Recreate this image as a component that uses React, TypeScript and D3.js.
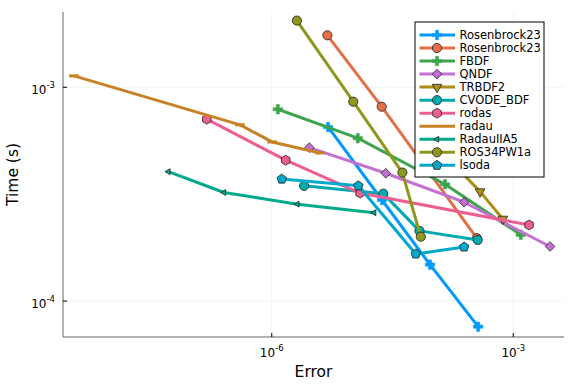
import React from "react";
import * as d3 from "d3";

// ---- data (Error, Time) ----
const seriesNames = ["Rosenbrock23", "Rosenbrock23", "FBDF", "QNDF", "TRBDF2", "CVODE_BDF", "rodas", "radau", "RadauIIA5", "ROS34PW1a", "lsoda"];
const seriesColors = ["#009AFA", "#E36F47", "#3EA44E", "#C371D2", "#AC8E18", "#00AAAE", "#ED5E93", "#C68225", "#00A98D", "#8E971E", "#00A8CB"];
const seriesMarkers = ["cross", "circle", "cross", "diamond", "dtriangle", "circle", "hexagon", "hline", "ltriangle", "circle", "pentagon"];

const rosenbrockErr = [5.0e-6, 2.34e-5, 9.25e-5, 3.66e-4];
const rosenbrockTime = [6.52e-4, 2.97e-4, 1.48e-4, 7.59e-5];
const rosenbrock2Err = [4.91e-6, 2.32e-5, 3.52e-4];
const rosenbrock2Time = [1.75e-3, 8.11e-4, 1.97e-4];
const fbdfErr = [1.19e-6, 1.17e-5, 1.42e-4, 1.24e-3];
const fbdfTime = [7.89e-4, 5.78e-4, 3.52e-4, 2.04e-4];
const qndfErr = [2.93e-6, 2.61e-5, 2.45e-4, 2.86e-3];
const qndfTime = [5.22e-4, 3.96e-4, 2.90e-4, 1.80e-4];
const trbdf2Err = [1.23e-4, 3.87e-4, 7.42e-4];
const trbdf2Time = [5.09e-4, 3.25e-4, 2.42e-4];
const cvodeErr = [2.52e-6, 2.43e-5, 6.83e-5, 3.62e-4];
const cvodeTime = [3.46e-4, 3.18e-4, 2.13e-4, 1.93e-4];
const rodasErr = [1.56e-7, 1.49e-6, 1.25e-5, 1.57e-3];
const rodasTime = [7.09e-4, 4.56e-4, 3.20e-4, 2.27e-4];
const radauErr = [3.5e-9, 4.04e-7, 1.01e-6, 3.98e-6];
const radauTime = [1.13e-3, 6.67e-4, 5.55e-4, 4.93e-4];
const radauIIA5Err = [5.2e-8, 2.55e-7, 2.08e-6, 1.87e-5];
const radauIIA5Time = [4.03e-4, 3.22e-4, 2.84e-4, 2.59e-4];
const ros34Err = [2.05e-6, 1.03e-5, 4.19e-5, 7.1e-5];
const ros34Time = [2.05e-3, 8.56e-4, 3.99e-4, 2.0e-4];
const lsodaErr = [1.33e-6, 1.19e-5, 6.15e-5, 2.45e-4];
const lsodaTime = [3.72e-4, 3.46e-4, 1.66e-4, 1.79e-4];

const errValues = [rosenbrockErr, rosenbrock2Err, fbdfErr, qndfErr, trbdf2Err, cvodeErr, rodasErr, radauErr, radauIIA5Err, ros34Err, lsodaErr];
const timeValues = [rosenbrockTime, rosenbrock2Time, fbdfTime, qndfTime, trbdf2Time, cvodeTime, rodasTime, radauTime, radauIIA5Time, ros34Time, lsodaTime];

const xTicks = [1e-6, 1e-3];
const xTickExp = ["-6", "-3"];
const yTicks = [1e-4, 1e-3];
const yTickExp = ["-4", "-3"];

const W = 576, H = 384;
const L = 63, R = 564, T = 12, B = 337;

const x = d3.scaleLog().domain([Math.pow(10, -8.593), Math.pow(10, -2.37)]).range([L, R]);
const y = d3.scaleLog().domain([Math.pow(10, -4.168), Math.pow(10, -2.648)]).range([B, T]);

const FONT = "DejaVu Sans, sans-serif";

function polygon(n: number, r: number, rot: number): string {
  const pts: string[] = [];
  for (let i = 0; i < n; i++) {
    const a = rot + (i * 2 * Math.PI) / n;
    pts.push(`${(r * Math.cos(a)).toFixed(2)},${(r * Math.sin(a)).toFixed(2)}`);
  }
  return "M" + pts.join("L") + "Z";
}

function Marker({ kind, cx, cy, color }: { kind: string; cx: number; cy: number; color: string }) {
  const t = `translate(${cx},${cy})`;
  const stroke = "#222";
  const sw = 0.8;
  switch (kind) {
    case "circle":
      return <circle cx={cx} cy={cy} r={4.6} fill={color} stroke={stroke} strokeWidth={sw} />;
    case "cross":
      return <path transform={t} d={d3.symbol(d3.symbolCross, 50)() as string} fill={color} stroke={color} strokeWidth={0.5} />;
    case "diamond":
      return <path transform={t} d={polygon(4, 4.8, -Math.PI / 2)} fill={color} stroke={stroke} strokeWidth={sw} />;
    case "dtriangle":
      return <path transform={t} d={polygon(3, 5.6, Math.PI / 2)} fill={color} stroke={stroke} strokeWidth={sw} />;
    case "ltriangle":
      return <path transform={t} d={polygon(3, 3.4, Math.PI)} fill={color} stroke={stroke} strokeWidth={sw} />;
    case "hexagon":
      return <path transform={t} d={polygon(6, 4.9, -Math.PI / 2)} fill={color} stroke={stroke} strokeWidth={sw} />;
    case "pentagon":
      return <path transform={t} d={polygon(5, 5.0, -Math.PI / 2)} fill={color} stroke={stroke} strokeWidth={sw} />;
    case "hline":
      return <rect x={cx - 4.5} y={cy - 1.2} width={9} height={2.4} fill={color} stroke={color} strokeWidth={0.5} />;
    default:
      return null;
  }
}

export default function App() {
  const line = d3.line<[number, number]>().x((d) => x(d[0])).y((d) => y(d[1]));
  const legX = 415, legY = 22, legW = 129, legH = 155;
  const legRow0 = 35, legStep = 13.03;
  return (
    <svg width={W} height={H} style={{ position: "absolute", left: 0, top: 0, background: "#fff" }} fontFamily={FONT}>
      <rect x={0} y={0} width={W} height={H} fill="#fff" />
      {/* grid */}
      {xTicks.map((v, i) => (
        <line key={"gx" + i} x1={x(v)} x2={x(v)} y1={T} y2={B} stroke="#000" strokeOpacity={0.1} strokeWidth={0.5} />
      ))}
      {yTicks.map((v, i) => (
        <line key={"gy" + i} x1={L} x2={R} y1={y(v)} y2={y(v)} stroke="#000" strokeOpacity={0.1} strokeWidth={0.5} />
      ))}
      {/* axes */}
      <line x1={L} x2={R} y1={B} y2={B} stroke="#666" strokeWidth={1} />
      <line x1={L} x2={L} y1={T} y2={B} stroke="#666" strokeWidth={1} />
      {xTicks.map((v, i) => (
        <g key={"tx" + i}>
          <line x1={x(v)} x2={x(v)} y1={B} y2={B - 4} stroke="#000" strokeWidth={1} />
          <text x={x(v)} y={356.5} fontSize={12} textAnchor="middle" fill="#000">
            10<tspan dy={-6} fontSize={8.5}>{xTickExp[i]}</tspan>
          </text>
        </g>
      ))}
      {yTicks.map((v, i) => (
        <g key={"ty" + i}>
          <line x1={L} x2={L + 4} y1={y(v)} y2={y(v)} stroke="#000" strokeWidth={1} />
          <text x={55} y={y(v) + 7} fontSize={12} textAnchor="end" fill="#000">
            10<tspan dy={-6} fontSize={8.5}>{yTickExp[i]}</tspan>
          </text>
        </g>
      ))}
      <text x={(L + R) / 2} y={377} fontSize={15.5} textAnchor="middle" fill="#000">Error</text>
      <text transform={`translate(18,${(T + B) / 2}) rotate(-90)`} fontSize={15.5} textAnchor="middle" fill="#000">Time (s)</text>
      {/* series */}
      {seriesNames.map((name, si) => {
        const pts: [number, number][] = errValues[si].map((e, j) => [e, timeValues[si][j]]);
        return (
          <g key={"s" + si}>
            <path d={line(pts) as string} fill="none" stroke={seriesColors[si]} strokeWidth={3} strokeLinejoin="round" />
            {pts.map((p, j) => (
              <Marker key={j} kind={seriesMarkers[si]} cx={x(p[0])} cy={y(p[1])} color={seriesColors[si]} />
            ))}
          </g>
        );
      })}
      {/* legend */}
      <rect x={legX} y={legY} width={legW} height={legH} fill="#fff" stroke="#000" strokeWidth={1} />
      {seriesNames.map((name, si) => {
        const cy = legRow0 + si * legStep;
        return (
          <g key={"l" + si}>
            <line x1={419.5} x2={455} y1={cy} y2={cy} stroke={seriesColors[si]} strokeWidth={3} />
            {seriesMarkers[si] !== "hline" && <Marker kind={seriesMarkers[si]} cx={437} cy={cy} color={seriesColors[si]} />}
            <text x={459.5} y={cy + 4} fontSize={11.5} fill="#000">{name}</text>
          </g>
        );
      })}
    </svg>
  );
}
